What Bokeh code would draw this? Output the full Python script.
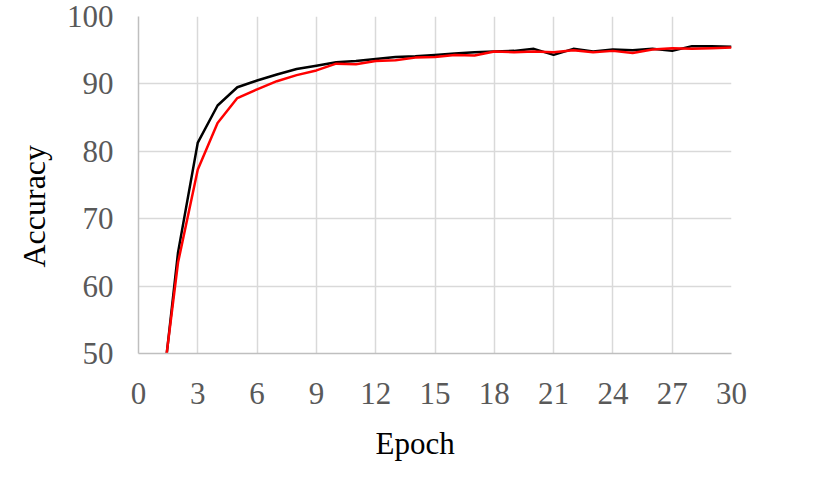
from bokeh.plotting import figure
from bokeh.models import Range1d, FixedTicker, Title, ColumnDataSource
from bokeh.embed import file_html
from bokeh.resources import INLINE

epochs = list(range(1, 31))
acc_black = [38.7, 65.0, 81.3, 86.8, 89.5, 90.5, 91.4, 92.2, 92.7, 93.2,
             93.4, 93.7, 94.0, 94.1, 94.3, 94.5, 94.7, 94.8, 94.9, 95.2,
             94.3, 95.2, 94.8, 95.1, 95.0, 95.2, 94.9, 95.6, 95.6, 95.5]
acc_red = [40.0, 63.5, 77.3, 84.2, 87.9, 89.2, 90.4, 91.3, 92.0, 93.0,
           92.9, 93.4, 93.5, 93.9, 94.0, 94.3, 94.2, 94.8, 94.7, 94.8,
           94.7, 95.0, 94.7, 94.9, 94.6, 95.1, 95.3, 95.2, 95.3, 95.4]
x_ticks = list(range(0, 31, 3))
y_ticks = [50, 60, 70, 80, 90, 100]
x_title = "Epoch"
y_title = "Accuracy"

FONT = "Liberation Serif"

W, H = 819, 477
p = figure(width=W, height=H, output_backend="svg", toolbar_location=None,
           x_range=Range1d(0, 30), y_range=Range1d(50, 100),
           min_border_left=138, min_border_right=W - 731,
           min_border_top=16, min_border_bottom=H - 353)
p.outline_line_color = None
p.background_fill_color = "white"
p.border_fill_color = "white"

src = ColumnDataSource(dict(x=epochs, b=acc_black, r=acc_red))
p.line("x", "b", source=src, line_color="#000000", line_width=2.5)
p.line("x", "r", source=src, line_color="#ff0000", line_width=2.5)

for ax in (p.xaxis[0], p.yaxis[0]):
    ax.major_tick_in = 0
    ax.major_tick_out = 0
    ax.minor_tick_in = 0
    ax.minor_tick_out = 0
    ax.axis_line_color = "#bfbfbf"
    ax.axis_line_width = 1.5
    ax.major_label_text_font = FONT
    ax.major_label_text_font_size = "31px"
    ax.major_label_text_color = "#595959"

p.xaxis.ticker = FixedTicker(ticks=x_ticks)
p.yaxis.ticker = FixedTicker(ticks=y_ticks)
p.xaxis.major_label_standoff = 29
p.yaxis.major_label_standoff = 25

p.xgrid.ticker = FixedTicker(ticks=x_ticks)
p.ygrid.ticker = FixedTicker(ticks=y_ticks)
p.grid.grid_line_color = "#d9d9d9"
p.grid.grid_line_width = 1.5

p.add_layout(Title(text=x_title, align="left", offset=237, standoff=34,
                   text_font=FONT, text_font_size="31px",
                   text_font_style="normal", text_color="#000000"), "below")
p.add_layout(Title(text=y_title, align="left", offset=86, standoff=24,
                   text_font=FONT, text_font_size="32px",
                   text_font_style="normal", text_color="#000000"), "left")

open("out.html", "w").write(file_html(p, INLINE))
